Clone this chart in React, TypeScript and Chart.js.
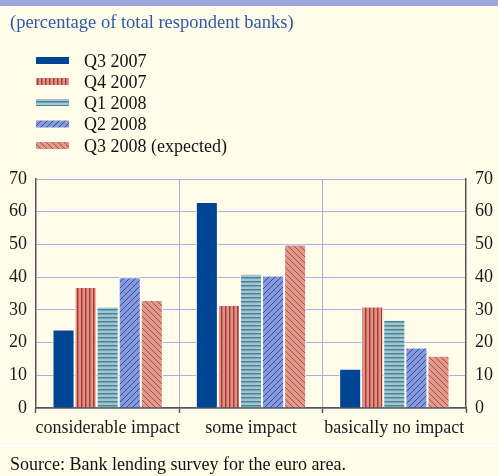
import React, { useEffect, useRef } from "react";
import { Chart, registerables } from "chart.js";

Chart.register(...registerables);

const categories = ["considerable impact", "some impact", "basically no impact"];
const seriesNames = ["Q3 2007", "Q4 2007", "Q1 2008", "Q2 2008", "Q3 2008 (expected)"];
const q3_2007 = [24, 63, 12];
const q4_2007 = [37, 31.5, 31];
const q1_2008 = [31, 41, 27];
const q2_2008 = [40, 40.5, 18.5];
const q3_2008 = [33, 50, 16];
const yMin = 0;
const yMax = 70;
const yStep = 10;

const subtitle = "(percentage of total respondent banks)";
const source = "Source: Bank lending survey for the euro area.";

const FONT = '"Liberation Serif", "Times New Roman", serif';
const BG = "#fffde9";
const GRID = "#a9b1e2";
const AXIS = "#555555";

function tile(w: number, h: number, draw: (c: CanvasRenderingContext2D) => void): CanvasPattern | string {
  const cv = document.createElement("canvas");
  cv.width = w;
  cv.height = h;
  const c = cv.getContext("2d")!;
  draw(c);
  const p = c.createPattern(cv, "repeat");
  return p || "#888";
}

function makeFills(): (CanvasPattern | string)[] {
  const solid = "#004494";
  const vertical = tile(4, 4, (c) => {
    c.fillStyle = "#d9958a";
    c.fillRect(0, 0, 4, 4);
    c.fillStyle = "#b3362c";
    c.fillRect(1, 0, 1, 4);
    c.fillStyle = "rgba(179,54,44,0.45)";
    c.fillRect(2, 0, 1, 4);
  });
  const horizontal = tile(4, 4, (c) => {
    c.fillStyle = "#a9c2cd";
    c.fillRect(0, 0, 4, 4);
    c.fillStyle = "#3e8a9a";
    c.fillRect(0, 1, 4, 1);
    c.fillStyle = "rgba(62,138,154,0.5)";
    c.fillRect(0, 2, 4, 1);
  });
  const diagUp = tile(6, 6, (c) => {
    c.fillStyle = "#8898d8";
    c.fillRect(0, 0, 6, 6);
    c.strokeStyle = "#2550b0";
    c.lineWidth = 1;
    c.beginPath();
    c.moveTo(-1, 7);
    c.lineTo(7, -1);
    c.moveTo(-1, 1);
    c.lineTo(1, -1);
    c.moveTo(5, 7);
    c.lineTo(7, 5);
    c.stroke();
  });
  const diagDown = tile(6, 6, (c) => {
    c.fillStyle = "#dc9c8b";
    c.fillRect(0, 0, 6, 6);
    c.strokeStyle = "#c2463e";
    c.lineWidth = 1;
    c.beginPath();
    c.moveTo(-1, -1);
    c.lineTo(7, 7);
    c.moveTo(5, -1);
    c.lineTo(7, 1);
    c.moveTo(-1, 5);
    c.lineTo(1, 7);
    c.stroke();
  });
  return [solid, vertical, horizontal, diagUp, diagDown];
}

const legendCenters = [60.5, 81.5, 102.5, 124, 145.5];

const swatchPlugin = {
  id: "legendSwatches",
  afterDraw(chart: any) {
    const ctx = chart.ctx as CanvasRenderingContext2D;
    ctx.save();
    chart.data.datasets.forEach((ds: any, i: number) => {
      ctx.fillStyle = ds.backgroundColor;
      ctx.fillRect(36, legendCenters[i] - 3.5, 33, 7);
    });
    ctx.restore();
  },
};

export default function App() {
  const ref = useRef<HTMLCanvasElement | null>(null);

  useEffect(() => {
    if (!ref.current) return;
    const fills = makeFills();
    const values = [q3_2007, q4_2007, q1_2008, q2_2008, q3_2008];
    const chart = new Chart(ref.current, {
      type: "bar",
      data: {
        labels: categories,
        datasets: seriesNames.map((name, i) => ({
          label: name,
          data: values[i],
          backgroundColor: fills[i] as any,
          borderColor: "#ffffff",
          borderWidth: 1,
          categoryPercentage: 0.77,
          barPercentage: 1,
          yAxisID: "y",
        })),
      },
      options: {
        responsive: false,
        animation: false,
        events: [],
        layout: { padding: { top: 179, bottom: 28, left: 0, right: 0 } },
        plugins: {
          legend: { display: false },
          title: { display: false },
          tooltip: { enabled: false },
        },
        scales: {
          x: {
            type: "category",
            offset: true,
            grid: {
              offset: true,
              display: true,
              drawOnChartArea: true,
              drawTicks: true,
              tickLength: 5,
              tickColor: AXIS,
              tickWidth: 1.5,
              lineWidth: 1,
              color: (ctx: any) =>
                ctx.type === "tick" && ctx.index > 0 ? GRID : "rgba(0,0,0,0)",
            },
            border: { display: true, color: AXIS, width: 1.5 },
            ticks: {
              font: { family: FONT, size: 18 },
              color: "#1a1a1a",
              padding: 4,
              maxRotation: 0,
              autoSkip: false,
            },
            afterFit: (s: any) => {
              s.height = 40;
            },
          },
          y: {
            type: "linear",
            position: "left",
            min: yMin,
            max: yMax,
            ticks: {
              stepSize: yStep,
              font: { family: FONT, size: 18 },
              color: "#1a1a1a",
              padding: 9,
            },
            grid: { color: GRID, lineWidth: 1, drawTicks: false },
            border: { display: true, color: AXIS, width: 1.5 },
            afterFit: (s: any) => {
              s.width = 36;
            },
          },
          y2: {
            type: "linear",
            position: "right",
            min: yMin,
            max: yMax,
            ticks: {
              stepSize: yStep,
              font: { family: FONT, size: 18 },
              color: "#1a1a1a",
              padding: 9,
            },
            grid: { display: true, drawOnChartArea: false, drawTicks: false },
            border: { display: true, color: AXIS, width: 1.5 },
            afterFit: (s: any) => {
              s.width = 32;
            },
          },
        },
      } as any,
      plugins: [swatchPlugin],
    });
    return () => chart.destroy();
  }, []);

  const text: React.CSSProperties = {
    position: "absolute",
    fontFamily: FONT,
    fontSize: 18,
    lineHeight: "22px",
    whiteSpace: "nowrap",
    color: "#111",
  };

  return (
    <div
      style={{
        position: "absolute",
        left: 0,
        top: 0,
        width: 498,
        height: 476,
        background: BG,
        overflow: "hidden",
      }}
    >
      <div style={{ position: "absolute", left: 0, top: 0, width: 498, height: 6, background: "#9ea7db" }} />
      <canvas
        ref={ref}
        width={498}
        height={476}
        style={{ position: "absolute", left: 0, top: 0, width: 498, height: 476 }}
      />
      <div style={{ ...text, left: 10, top: 11, fontSize: 18.5, color: "#2d5aa8" }}>{subtitle}</div>
      {seriesNames.map((n, i) => (
        <div key={n} style={{ ...text, left: 84, top: legendCenters[i] - 11 }}>
          {n}
        </div>
      ))}
      <div style={{ position: "absolute", left: 0, top: 445, width: 498, height: 2, background: "#ffffff" }} />
      <div style={{ ...text, left: 10, top: 453 }}>{source}</div>
    </div>
  );
}
